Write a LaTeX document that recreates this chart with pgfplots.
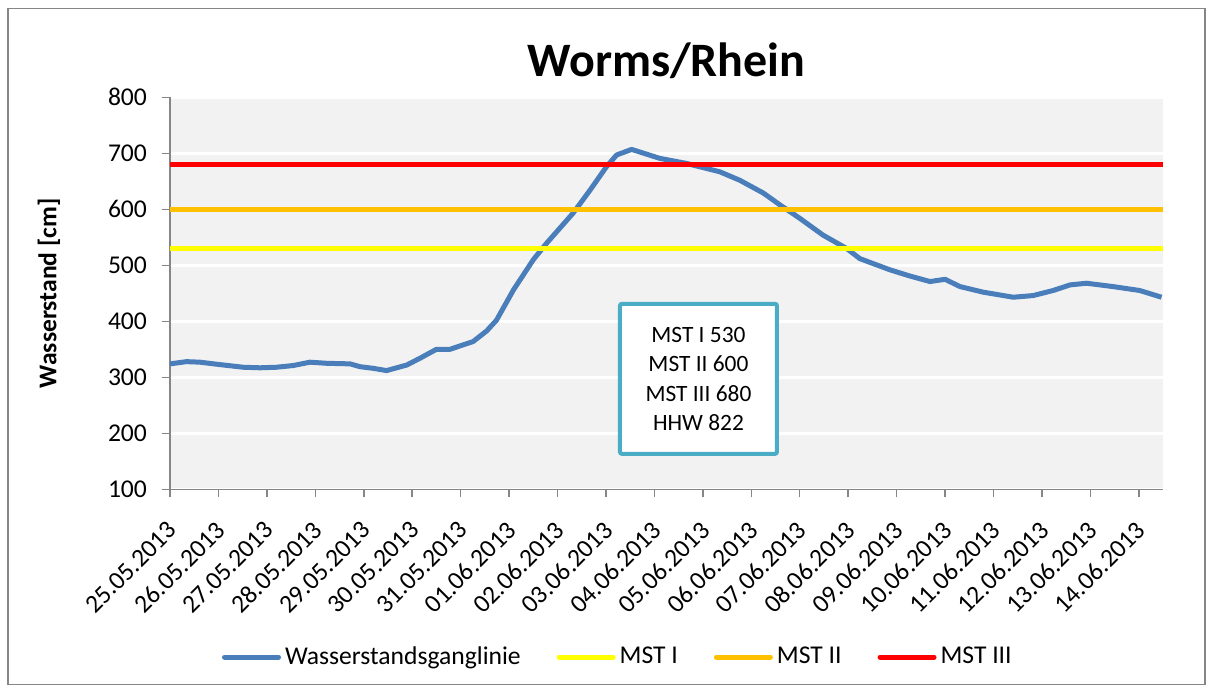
\documentclass[border=0pt]{standalone}
\usepackage{fontspec}
\setmainfont{Carlito}
\usepackage{pgfplots}
\pgfplotsset{compat=1.18}

\definecolor{wsblue}{HTML}{4A7EBB}
\definecolor{mst1}{HTML}{FFFF00}
\definecolor{mst2}{HTML}{FFC000}
\definecolor{mst3}{HTML}{FF0000}
\definecolor{boxblue}{HTML}{4BACC6}
\definecolor{plotbg}{HTML}{F2F2F2}
\definecolor{axisgray}{HTML}{868686}

\begin{document}
\begin{tikzpicture}
\path (-85pt,-101.85pt) rectangle (522pt,244.65pt);
\draw[axisgray, line width=0.6pt] (-81pt,-97.5pt) rectangle (517.5pt,240.5pt);
\begin{axis}[
  at={(0,0)}, anchor=south west,
  width=496.5pt, height=196pt, scale only axis,
  xmin=0, xmax=20.5, ymin=100, ymax=800,
  xtick={0,...,20},
  xticklabels={25.05.2013,26.05.2013,27.05.2013,28.05.2013,29.05.2013,30.05.2013,31.05.2013,
    01.06.2013,02.06.2013,03.06.2013,04.06.2013,05.06.2013,06.06.2013,07.06.2013,
    08.06.2013,09.06.2013,10.06.2013,11.06.2013,12.06.2013,13.06.2013,14.06.2013},
  ytick={100,200,...,800},
  axis x line*=bottom, axis y line*=left,
  axis line style={draw=axisgray, line width=0.75pt, -},
  tick style={draw=axisgray, line width=0.75pt},
  tick align=outside, major tick length=4pt,
  axis background/.style={fill=plotbg},
  ymajorgrids=true, grid style={white, line width=1.6pt},
  /pgf/number format/assume math mode=true,
  tick label style={font=\fontsize{12.8}{15}\selectfont, black},
  xticklabel style={xshift=3.65pt, yshift=-11.85pt, rotate=45, anchor=east},
  yticklabel style={xshift=-4pt},
  ylabel={Wasserstand [cm]},
  ylabel style={at={(axis description cs:-0.1219,0.5)}, anchor=center, rotate=0,
    font=\bfseries\fontsize{12.8}{15}\selectfont},
  title={Worms/Rhein},
  title style={at={(axis description cs:0.5,1)}, anchor=center, yshift=12.15pt,
    font=\bfseries\fontsize{24}{28}\selectfont},
  legend columns=4,
  legend style={at={(0.452,-0.428)}, anchor=center, draw=none, fill=none,
    font=\fontsize{12.8}{15}\selectfont,
    /tikz/every even column/.append style={column sep=16pt}},
  legend image code/.code={\draw[#1, line cap=round] (0pt,0pt) -- (27pt,0pt);},
  every axis plot/.append style={line width=2.5pt, line join=round},
]
\addplot[wsblue] coordinates {
  (0,324) (0.34,328) (0.62,327) (1.0,323) (1.51,318) (1.86,317) (2.2,318)
  (2.54,321) (2.89,327) (3.24,325) (3.72,324) (3.92,319) (4.2,316) (4.47,312)
  (4.89,322) (5.16,334) (5.50,350) (5.78,350) (6.26,364) (6.54,383) (6.74,402)
  (7.09,456) (7.50,510) (7.77,539) (8.32,593) (8.67,634) (9.01,676) (9.22,697)
  (9.53,707) (10.11,691) (10.66,682) (11.35,667) (11.76,652) (12.25,629)
  (12.59,608) (13.00,584) (13.48,554) (13.97,530) (14.24,512) (14.86,492)
  (15.27,481) (15.69,471) (16.00,475) (16.31,462) (16.79,452) (17.41,443)
  (17.82,446) (18.23,455) (18.58,465) (18.92,468) (19.47,462) (20.02,455)
  (20.47,443)
};
\addplot[mst1] coordinates {(0,530) (20.5,530)};
\addplot[mst2] coordinates {(0,600) (20.5,600)};
\addplot[mst3] coordinates {(0,680) (20.5,680)};
\legend{Wasserstandsganglinie, MST I, MST II, MST III}
\node[draw=boxblue, line width=2pt, fill=white, rounded corners=1pt,
  minimum width=78.5pt, minimum height=75pt, align=center,
  font=\fontsize{11.7}{14.7}\selectfont]
  at (axis cs:10.91,297.3) {MST I 530\\MST II 600\\MST III 680\\HHW 822};
\end{axis}
\end{tikzpicture}
\end{document}
